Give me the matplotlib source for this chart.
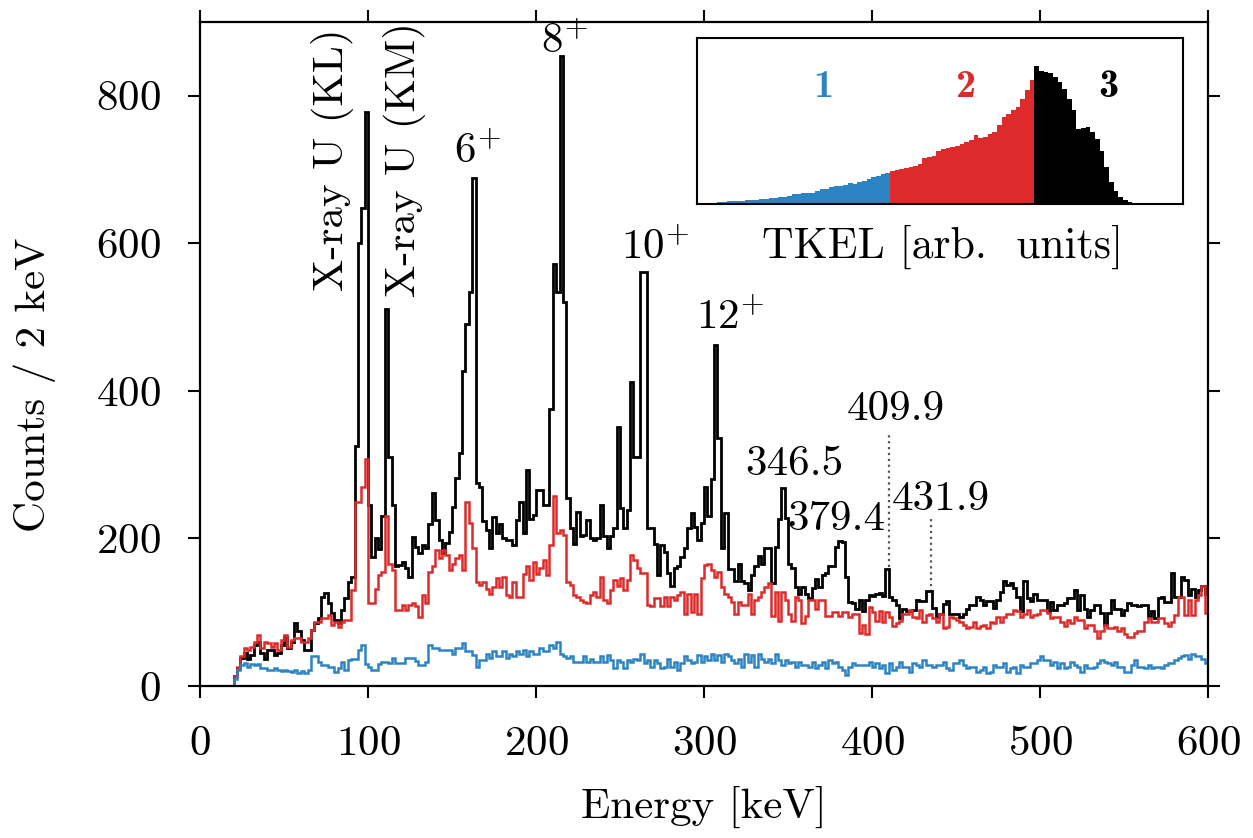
import numpy as np
import matplotlib
matplotlib.use("Agg")
import matplotlib.pyplot as plt

plt.rcParams['font.family'] = ['cmr10', 'DejaVu Serif']
plt.rcParams['mathtext.fontset'] = 'cm'
plt.rcParams['axes.formatter.use_mathtext'] = True

# ---------------- data ----------------
bin_width_kev = 2
energy_start_kev = 20
energy_stop_kev = 600

# TKEL region 3 (black), counts per 2 keV bin, E = 20 ... 598
counts_black = [
    14, 24, 38, 45, 37, 42, 55, 60, 45, 37,
    49, 49, 42, 45, 55, 67, 51, 60, 85, 74,
    62, 49, 49, 76, 85, 92, 121, 126, 112, 99,
    89, 85, 103, 119, 141, 148, 325, 601, 648, 778,
    245, 175, 200, 185, 230, 511, 311, 245, 162, 164,
    168, 160, 148, 202, 189, 180, 191, 187, 220, 261,
    225, 198, 180, 194, 209, 243, 282, 316, 427, 491,
    534, 688, 275, 270, 223, 212, 187, 229, 207, 220,
    200, 198, 198, 191, 225, 250, 207, 293, 227, 232,
    266, 266, 245, 245, 375, 572, 534, 854, 520, 255,
    214, 193, 236, 203, 205, 225, 200, 198, 200, 245,
    203, 187, 203, 214, 351, 241, 214, 239, 412, 311,
    311, 561, 561, 214, 214, 193, 150, 191, 182, 153,
    135, 160, 162, 175, 187, 214, 234, 216, 198, 221,
    270, 230, 281, 462, 336, 187, 234, 158, 158, 142,
    165, 142, 140, 130, 150, 162, 176, 165, 187, 187,
    140, 188, 227, 268, 228, 166, 160, 134, 125, 134,
    125, 119, 133, 145, 134, 150, 153, 162, 162, 188,
    197, 195, 148, 114, 112, 104, 117, 102, 117, 123,
    122, 124, 126, 122, 158, 121, 117, 110, 92, 105,
    101, 101, 103, 117, 115, 115, 129, 129, 106, 94,
    98, 111, 115, 98, 98, 98, 94, 98, 105, 110,
    110, 121, 117, 110, 115, 115, 106, 117, 127, 142,
    137, 140, 133, 121, 101, 142, 119, 115, 124, 117,
    117, 117, 101, 114, 103, 110, 110, 112, 119, 119,
    130, 103, 123, 105, 94, 103, 110, 110, 99, 83,
    99, 117, 105, 105, 96, 103, 112, 110, 110, 108,
    110, 110, 94, 101, 92, 119, 121, 114, 114, 153,
    121, 121, 148, 144, 123, 132, 121, 130, 135, 125,
]

# TKEL region 2 (red)
counts_red = [
    14, 26, 40, 51, 49, 53, 60, 69, 51, 60,
    58, 53, 58, 49, 62, 69, 53, 62, 65, 65,
    60, 60, 65, 76, 87, 87, 92, 92, 96, 83,
    87, 80, 87, 89, 89, 130, 250, 250, 270, 308,
    112, 112, 131, 150, 155, 230, 166, 157, 103, 103,
    110, 103, 110, 112, 108, 94, 123, 112, 155, 162,
    184, 173, 184, 177, 157, 166, 173, 177, 157, 250,
    221, 187, 141, 137, 141, 132, 125, 134, 146, 134,
    148, 123, 121, 141, 121, 121, 152, 162, 144, 168,
    152, 160, 171, 150, 191, 257, 207, 212, 205, 141,
    137, 123, 121, 116, 114, 112, 123, 128, 121, 148,
    116, 112, 130, 144, 135, 146, 130, 144, 177, 171,
    160, 153, 153, 110, 108, 119, 119, 108, 121, 108,
    121, 116, 123, 128, 98, 125, 100, 125, 98, 146,
    164, 166, 157, 148, 155, 134, 125, 120, 114, 98,
    114, 110, 110, 125, 98, 117, 121, 128, 134, 139,
    95, 127, 88, 127, 117, 98, 88, 120, 116, 85,
    95, 116, 116, 104, 116, 116, 95, 95, 100, 100,
    95, 100, 100, 93, 97, 97, 72, 83, 70, 107,
    100, 88, 101, 87, 100, 94, 81, 85, 88, 98,
    98, 103, 94, 92, 103, 87, 96, 98, 92, 87,
    98, 78, 80, 94, 92, 90, 87, 83, 78, 80,
    87, 78, 81, 83, 79, 87, 86, 94, 87, 94,
    98, 97, 103, 101, 94, 98, 103, 94, 96, 98,
    103, 103, 99, 92, 94, 94, 87, 81, 90, 85,
    94, 90, 90, 78, 83, 83, 74, 65, 74, 83,
    79, 79, 80, 74, 78, 70, 67, 67, 72, 74,
    74, 87, 92, 87, 87, 92, 92, 85, 81, 87,
    96, 121, 121, 96, 117, 96, 117, 123, 135, 99,
]

# TKEL region 1 (blue)
counts_blue = [
    10, 22, 28, 31, 26, 30, 28, 30, 24, 24,
    22, 21, 24, 22, 20, 22, 20, 19, 22, 18,
    20, 17, 22, 40, 40, 33, 28, 28, 26, 26,
    19, 24, 33, 22, 35, 37, 37, 49, 55, 30,
    26, 22, 22, 30, 33, 33, 31, 38, 31, 31,
    31, 38, 38, 38, 34, 29, 29, 33, 56, 51,
    51, 49, 49, 49, 49, 44, 51, 51, 58, 47,
    47, 42, 26, 35, 35, 44, 38, 47, 40, 40,
    47, 38, 44, 40, 47, 44, 49, 40, 47, 44,
    44, 51, 47, 47, 56, 51, 60, 44, 40, 38,
    40, 33, 33, 33, 40, 33, 37, 33, 33, 40,
    33, 42, 35, 24, 35, 33, 24, 35, 33, 37,
    35, 44, 31, 35, 26, 35, 31, 24, 26, 37,
    26, 33, 22, 31, 40, 35, 31, 33, 42, 33,
    40, 35, 44, 35, 42, 33, 44, 40, 35, 31,
    37, 26, 44, 33, 42, 26, 44, 37, 33, 37,
    31, 44, 35, 28, 35, 31, 33, 26, 33, 28,
    28, 26, 33, 24, 28, 33, 24, 35, 31, 33,
    26, 22, 15, 26, 31, 28, 28, 28, 28, 33,
    26, 31, 24, 28, 17, 31, 22, 26, 33, 26,
    26, 19, 31, 28, 26, 35, 28, 28, 26, 28,
    28, 33, 24, 22, 31, 31, 35, 28, 24, 26,
    26, 19, 22, 26, 17, 19, 28, 26, 26, 31,
    19, 24, 26, 17, 28, 26, 26, 31, 31, 35,
    40, 35, 35, 29, 33, 24, 31, 24, 26, 33,
    28, 26, 19, 28, 24, 24, 26, 31, 35, 33,
    31, 28, 33, 26, 26, 19, 19, 28, 35, 26,
    26, 24, 28, 24, 26, 26, 24, 28, 31, 31,
    35, 38, 40, 42, 37, 44, 40, 40, 37, 31,
]

# inset: TKEL distribution (arb. units), three gates
tkel_region1 = [3, 3, 4, 4, 5, 6, 8, 10, 9, 10, 11, 12, 13, 15, 16, 17, 18, 20, 22,
                25, 30, 31, 32, 34, 33, 40, 44, 46, 50, 53, 55, 58, 62, 60, 66, 68,
                74, 80, 85, 90, 92]
tkel_region2 = [100, 102, 105, 108, 112, 115, 120, 138, 142, 145, 160, 165, 168, 170,
                175, 180, 185, 192, 205, 198, 200, 208, 215, 235, 260, 268, 280, 290,
                315, 340, 370]
tkel_region3 = [412, 398, 396, 392, 380, 365, 345, 315, 280, 225, 228, 230, 215, 195,
                160, 110, 65, 38, 22, 12, 7, 4, 3, 2, 2, 1, 1, 1]

peak_labels = ["6$^{+}$", "8$^{+}$", "10$^{+}$", "12$^{+}$",
               "346.5", "379.4", "409.9", "431.9"]
xray_labels = ["X-ray U (KL)", "X-ray U (KM)"]
region_labels = ["1", "2", "3"]

x_ticks = [0, 100, 200, 300, 400, 500, 600]
y_ticks = [0, 200, 400, 600, 800]

C_BLUE = '#2c84c4'
C_RED = '#de2a2a'
C_BLACK = '#000000'

# ---------------- figure ----------------
fig = plt.figure(figsize=(12.53, 8.38), dpi=100)
ax = fig.add_axes([0.1596, 0.1814, 0.8045, 0.7924])

edges = np.arange(energy_start_kev, energy_stop_kev + bin_width_kev, bin_width_kev)

ax.stairs(counts_black, edges, baseline=0, color=C_BLACK, lw=2.0, zorder=2.1)
ax.stairs(counts_red, edges, baseline=0, color=C_RED, lw=1.8, zorder=2.2)
ax.stairs(counts_blue, edges, baseline=0, color=C_BLUE, lw=1.8, zorder=2.3)

ax.set_xlim(0, 600)
ax.set_ylim(0, 900)
ax.set_xticks(x_ticks)
ax.set_yticks(y_ticks)
ax.tick_params(direction='out', length=8.5, width=1.5, labelsize=31,
               top=True, right=True, labeltop=False, labelright=False, pad=20)
for s in ax.spines.values():
    s.set_linewidth(1.6)
    s.set_zorder(3)

ax.set_xlabel("Energy [keV]", fontsize=31)
ax.set_ylabel("Counts / 2 keV", fontsize=31)
ax.xaxis.set_label_coords(0.5, -0.15)
ax.yaxis.set_label_coords(-0.143, 0.453)

fs = 31
ax.text(78.6, 713, xray_labels[0], rotation=90, ha='center', va='center', fontsize=fs)
ax.text(122, 713, xray_labels[1], rotation=90, ha='center', va='center', fontsize=fs)
ax.text(165, 708, peak_labels[0], ha='center', va='baseline', fontsize=fs)
ax.text(217, 858, peak_labels[1], ha='center', va='baseline', fontsize=fs)
ax.text(271, 578, peak_labels[2], ha='center', va='baseline', fontsize=fs)
ax.text(315.5, 483, peak_labels[3], ha='center', va='baseline', fontsize=fs)
ax.text(354, 286, peak_labels[4], ha='center', va='baseline', fontsize=fs)
ax.text(378.6, 211, peak_labels[5], ha='center', va='baseline', fontsize=fs)
ax.text(414, 361, peak_labels[6], ha='center', va='baseline', fontsize=fs)
ax.text(441, 239, peak_labels[7], ha='center', va='baseline', fontsize=fs)

ax.plot([410, 410], [161, 340], ls=':', color='#555555', lw=1.6, zorder=1)
ax.plot([435, 435], [128, 228], ls=':', color='#555555', lw=1.6, zorder=1)

# ---------------- inset ----------------
iax = fig.add_axes([0.5563, 0.7566, 0.3879, 0.1981])
n1, n2, n3 = len(tkel_region1), len(tkel_region2), len(tkel_region3)
e1 = np.arange(0, n1 + 1)
e2 = np.arange(n1, n1 + n2 + 1)
e3 = np.arange(n1 + n2, n1 + n2 + n3 + 1)
iax.stairs(tkel_region1, e1, fill=True, color=C_BLUE, lw=0)
iax.stairs(tkel_region2, e2, fill=True, color=C_RED, lw=0)
iax.stairs(tkel_region3, e3, fill=True, color=C_BLACK, lw=0)
iax.set_xlim(-0.36, 103.9)
iax.set_ylim(0, 497)
iax.set_xticks([])
iax.set_yticks([])
for s in iax.spines.values():
    s.set_linewidth(1.5)

iax.text(26.7, 348, region_labels[0], color=C_BLUE, fontsize=29, family='cmb10',
         ha='center', va='center')
iax.text(57.4, 348, region_labels[1], color=C_RED, fontsize=29, family='cmb10',
         ha='center', va='center')
iax.text(87.8, 348, region_labels[2], color=C_BLACK, fontsize=29, family='cmb10',
         ha='center', va='center')
fig.text(0.752, 0.705, "TKEL [arb.  units]", fontsize=31.5, ha='center', va='center')

fig.savefig("out.png", dpi=100)
